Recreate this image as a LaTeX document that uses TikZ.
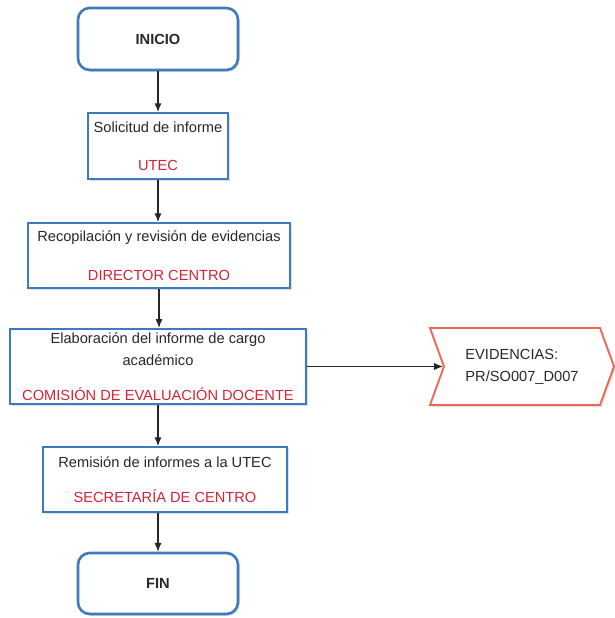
\documentclass[tikz,border=0pt]{standalone}
\usepackage{fontspec}
\setmainfont{Liberation Sans}
\usetikzlibrary{arrows.meta,positioning,shapes.symbols,shadows}

\definecolor{azulborde}{RGB}{62,122,192}
\definecolor{rojotexto}{RGB}{214,36,52}
\definecolor{rojoborde}{RGB}{236,104,84}
\definecolor{textogris}{RGB}{40,40,40}

\tikzset{
  sombra/.style={drop shadow={opacity=0.25,shadow xshift=1.5pt,shadow yshift=-1.5pt}},
  terminal/.style={draw=azulborde,line width=2.2pt,rounded corners=10pt,fill=white,sombra,
    font=\fontsize{12.5pt}{18.7pt}\selectfont\bfseries},
  proceso/.style={draw=azulborde,line width=1.5pt,fill=white,sombra,align=center},
  evidencia/.style={signal,signal to=east,signal from=west,signal pointer angle=140,
    draw=rojoborde,line width=1.6pt,fill=white,sombra,align=left,inner sep=0pt},
  flecha/.style={-{Latex[length=7.5pt,width=6pt]},line width=0.9pt,black!85}
}
\newcommand{\resp}[1]{\textcolor{rojotexto}{#1}}

\begin{document}
\begin{tikzpicture}[x=0.03cm,y=-0.03cm,text=textogris,font=\fontsize{12.5pt}{18.7pt}\selectfont]
  \useasboundingbox (0,0) rectangle (614,618);
  % columna principal
  \node[terminal,minimum width=4.8cm,minimum height=1.86cm] (inicio) at (158,39) {INICIO};
  \node[proceso,minimum width=4.2cm,minimum height=1.98cm] (solicitud) at (158,146)
    {Solicitud de informe\\[13.7pt]\resp{UTEC}};
  \node[proceso,minimum width=7.86cm,minimum height=1.95cm] (recopilacion) at (159,255.5)
    {Recopilación y revisión de evidencias\\[14.5pt]\resp{DIRECTOR CENTRO}};
  \node[proceso,minimum width=8.88cm,minimum height=2.13cm] (elaboracion) at (158,366.5)
    {Elaboración del informe de cargo\\académico\\[11pt]\resp{COMISIÓN DE EVALUACIÓN DOCENTE}};
  \node[proceso,minimum width=7.32cm,minimum height=1.95cm] (remision) at (165,479.5)
    {Remisión de informes a la UTEC\\[11pt]\resp{SECRETARÍA DE CENTRO}};
  \node[terminal,minimum width=4.8cm,minimum height=1.83cm] (fin) at (158,583.5) {FIN};
  % salida lateral
  \node[evidencia,minimum width=5.52cm,minimum height=2.31cm] (evidencias) at (522,366.5)
    {EVIDENCIAS:\\PR/SO007\_D007};

  \draw[flecha] (inicio.south) -- (solicitud.north);
  \draw[flecha] (solicitud.south) -- (solicitud.south |- recopilacion.north);
  \draw[flecha] (recopilacion.south) -- (recopilacion.south |- elaboracion.north);
  \draw[flecha] (elaboracion.south) -- (elaboracion.south |- remision.north);
  \draw[flecha] (elaboracion.south |- remision.south) -- (fin.north);
  \draw[flecha] (elaboracion.east) -- (evidencias.west);
\end{tikzpicture}
\end{document}
